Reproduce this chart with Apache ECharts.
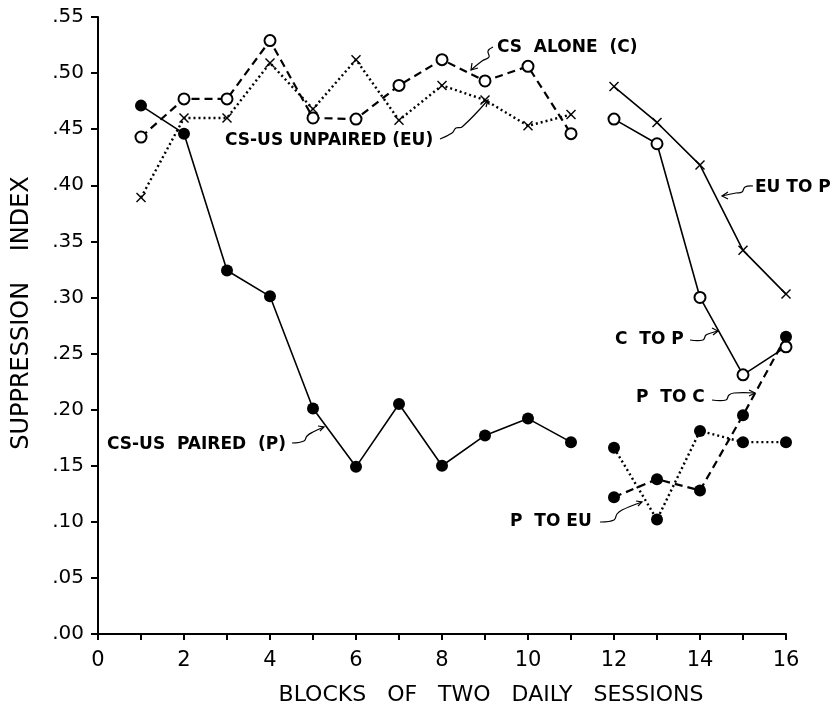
<!DOCTYPE html>
<html lang="en">
<head>
    <meta charset="UTF-8">
    <title>Suppression index</title>
    <style>
        html, body { margin: 0; padding: 0; background: #fff; }
        #main { width: 839px; height: 708px; }
    </style>
</head>
<body>
    <div id="main"></div>
<script src="https://cdn.jsdelivr.net/npm/echarts@6/dist/echarts.min.js"></script>
<script>
    // blocks
    var blocksA = [1, 2, 3, 4, 5, 6, 7, 8, 9, 10, 11];
    var blocksB = [12, 13, 14, 15, 16];
    var yTicks = [0, 0.05, 0.10, 0.15, 0.20, 0.25, 0.30, 0.35, 0.40, 0.45, 0.50, 0.55];

    // first phase
    var paired = [0.471, 0.446, 0.324, 0.301, 0.201, 0.149, 0.205, 0.150, 0.177, 0.192, 0.171];
    var csAlone = [0.443, 0.477, 0.477, 0.529, 0.460, 0.459, 0.489, 0.512, 0.493, 0.506, 0.446];
    var unpaired = [0.389, 0.460, 0.460, 0.509, 0.468, 0.512, 0.458, 0.489, 0.476, 0.453, 0.463];

    // second phase
    var euToP = [0.488, 0.456, 0.418, 0.342, 0.303];
    var cToP = [0.459, 0.437, 0.300, 0.231, 0.256];
    var pToC = [0.122, 0.138, 0.128, 0.195, 0.265];
    var pToEu = [0.166, 0.102, 0.181, 0.171, 0.171];

    function pairs(xs, ys) {
        return xs.map(function (x, i) { return [x, ys[i]]; });
    }

    var crossSymbol = 'path://M0,1L1,0L5,4L9,0L10,1L6,5L10,9L9,10L5,6L1,10L0,9L4,5Z';
    var font = '"DejaVu Sans", sans-serif';

    function mkSeries(name, xs, ys, lineType, marker) {
        var s = {
            name: name,
            type: 'line',
            data: pairs(xs, ys),
            lineStyle: { color: '#000', width: 1.6, type: lineType },
            symbolSize: 12,
            z: 3
        };
        if (lineType === 'dotted') {
            s.lineStyle.width = 2.4;
            s.lineStyle.type = [2, 3];
        }
        if (lineType === 'dashed') {
            s.lineStyle.width = 2.2;
            s.lineStyle.type = [8, 5];
        }
        if (marker === 'filled') {
            s.symbol = 'circle';
            s.itemStyle = { color: '#000' };
        } else if (marker === 'open') {
            s.symbol = 'circle';
            s.symbolSize = 11;
            s.itemStyle = { color: '#fff', borderColor: '#000', borderWidth: 2 };
        } else {
            s.symbol = crossSymbol;
            s.symbolSize = 10;
            s.itemStyle = { color: '#000' };
        }
        return s;
    }

    function note(txt, x, y) {
        return {
            type: 'text', x: x, y: y,
            style: { text: txt, font: 'bold 17px ' + font, fill: '#000', verticalAlign: 'middle' }
        };
    }
    // wavy leader line plus a small arrow head at the last point
    function squiggle(pts, head) {
        var tip = pts[pts.length - 1];
        return [{
            type: 'polyline',
            shape: { points: pts, smooth: 0.4 },
            style: { stroke: '#000', lineWidth: 1.2, fill: null }
        }, {
            type: 'polyline',
            shape: { points: [head[0], tip, head[1]] },
            style: { stroke: '#000', lineWidth: 1.2, fill: null }
        }];
    }

    var graphics = [
        note('CS  ALONE  (C)', 497, 48),
        note('CS-US UNPAIRED (EU)', 225, 141),
        note('EU TO P', 755, 188),
        note('C  TO P', 615, 340),
        note('P  TO C', 636, 398),
        note('CS-US  PAIRED  (P)', 107, 445),
        note('P  TO EU', 510, 522)
    ].concat(
        squiggle([[493, 47], [488, 51], [489, 57], [482, 61], [471, 70]], [[472, 63], [478, 68]]),
        squiggle([[440, 139], [452, 133], [456, 128], [462, 127], [488, 100]], [[481, 103], [486, 107]]),
        squiggle([[753, 186], [745, 187], [742, 192], [736, 193], [722, 196]], [[728, 192], [728, 199]]),
        squiggle([[690, 340], [703, 340], [706, 335], [711, 333], [718, 331]], [[712, 328], [713, 335]]),
        squiggle([[712, 400], [726, 400], [729, 395], [734, 393], [755, 393]], [[749, 390], [749, 396]]),
        squiggle([[292, 443], [304, 441], [307, 436], [313, 432], [324, 427]], [[318, 426], [320, 431]]),
        squiggle([[600, 522], [614, 520], [617, 514], [622, 510], [642, 502]], [[636, 501], [638, 506]])
    );

    var myChart = echarts.init(document.getElementById('main'));
    var option = {
        backgroundColor: '#fff',
        animation: false,
        grid: { left: 98, right: 53, top: 17, bottom: 74, outerBoundsMode: 'none' },
        xAxis: {
            type: 'value',
            min: 0, max: 16, interval: 1,
            name: 'BLOCKS   OF   TWO   DAILY   SESSIONS',
            nameLocation: 'middle',
            nameGap: 50,
            nameTextStyle: { fontFamily: font, fontSize: 22, color: '#000', padding: [0, 0, 0, 98] },
            splitLine: { show: false },
            axisLine: { lineStyle: { color: '#000', width: 2 } },
            axisTick: { length: 6, lineStyle: { color: '#000', width: 2 } },
            axisLabel: {
                fontFamily: font, fontSize: 21, color: '#000', margin: 16,
                formatter: function (v) { return v % 2 === 0 ? String(v) : ''; }
            }
        },
        yAxis: {
            type: 'value',
            min: 0, max: 0.55, interval: 0.05,
            name: 'SUPPRESSION    INDEX',
            nameLocation: 'middle',
            nameGap: 64,
            nameTextStyle: { fontFamily: font, fontSize: 24, color: '#000', padding: [0, 0, 0, 25] },
            splitLine: { show: false },
            axisLine: { show: true, lineStyle: { color: '#000', width: 2 } },
            axisTick: { length: 7, lineStyle: { color: '#000', width: 2 } },
            axisLabel: {
                fontFamily: font, fontSize: 20, color: '#000', margin: 14,
                formatter: function (v) {
                    var t = yTicks.reduce(function (a, b) { return Math.abs(b - v) < Math.abs(a - v) ? b : a; });
                    return t.toFixed(2).replace(/^0/, '');
                }
            }
        },
        series: [
            mkSeries('CS-US PAIRED (P)', blocksA, paired, 'solid', 'filled'),
            mkSeries('CS ALONE (C)', blocksA, csAlone, 'dashed', 'open'),
            mkSeries('CS-US UNPAIRED (EU)', blocksA, unpaired, 'dotted', 'cross'),
            mkSeries('EU TO P', blocksB, euToP, 'solid', 'cross'),
            mkSeries('C TO P', blocksB, cToP, 'solid', 'open'),
            mkSeries('P TO C', blocksB, pToC, 'dashed', 'filled'),
            mkSeries('P TO EU', blocksB, pToEu, 'dotted', 'filled')
        ],
        graphic: graphics
    };
    myChart.setOption(option);
</script>
</body>
</html>
